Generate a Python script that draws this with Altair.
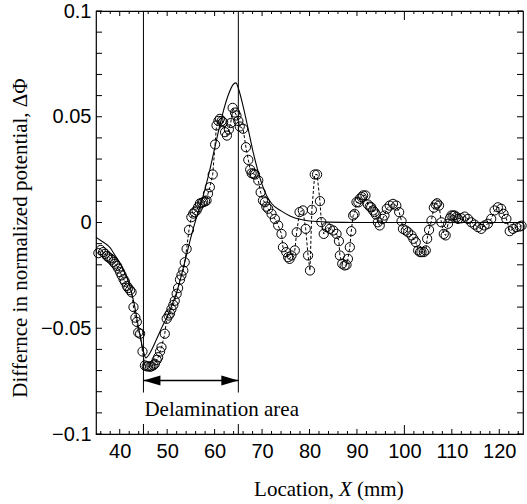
import altair as alt
import pandas as pd

# ---------------- data ----------------
meas_x = [35.5, 36.0, 36.5, 36.9, 37.3, 37.6, 38.0, 38.3, 38.7, 39.0, 39.4, 39.7,
          40.1, 40.4, 40.8, 41.1, 41.5, 41.8, 42.2, 42.5, 42.9, 43.3, 43.6, 43.9,
          44.3, 44.8, 45.3, 45.7, 46.0, 46.4, 46.7, 47.1, 47.4, 47.8, 48.1, 48.5,
          48.8, 49.5, 49.9, 50.3, 50.6, 50.9, 51.3, 51.6, 52.0, 52.3, 52.7, 53.0,
          53.4, 53.7, 54.1, 54.6, 55.1, 55.5, 55.8, 56.2, 56.5, 56.9, 57.3, 57.6,
          58.0, 58.3, 58.6, 59.0, 59.6, 60.1, 60.4, 60.8, 61.1, 61.5, 61.8, 62.2,
          62.6, 63.0, 63.4, 63.8, 64.3, 64.6, 65.0, 65.3, 66.0, 66.6, 67.1, 67.5,
          67.8, 68.2, 68.5, 69.2, 69.7, 70.2, 70.6, 70.9, 71.3, 72.0, 72.7, 73.4,
          74.1, 74.4, 75.1, 75.5, 75.8, 76.2, 76.9, 77.3, 77.9, 78.6, 79.2, 79.7,
          80.1, 80.5, 81.1, 81.6, 82.2, 82.5, 83.0, 83.6, 84.3, 85.0, 85.7, 86.2,
          86.4, 86.9, 87.4, 87.8, 88.1, 88.5, 88.8, 89.2, 89.5, 89.9, 90.3, 90.6,
          91.0, 91.3, 91.8, 92.3, 92.7, 93.0, 93.4, 93.7, 94.0, 94.4, 94.8, 95.4,
          95.8, 96.3, 96.9, 97.6, 98.3, 98.9, 99.4, 99.7, 100.3, 100.8, 101.5, 101.9,
          102.4, 102.9, 103.3, 103.6, 104.1, 104.5, 104.8, 105.2, 105.7, 106.2, 106.6, 106.9,
          107.3, 107.8, 108.3, 108.7, 109.2, 109.6, 109.9, 110.3, 110.6, 111.0, 111.3, 112.0,
          112.7, 113.4, 114.1, 114.8, 115.5, 116.2, 116.9, 117.6, 118.3, 119.0, 119.7, 120.4,
          120.9, 121.5, 122.2, 122.9, 123.6, 124.3, 124.7]
meas_y = [-0.0145, -0.013, -0.014, -0.0148, -0.0158, -0.0164, -0.017, -0.0176, -0.0186, -0.0195, -0.0205, -0.0218,
          -0.0235, -0.025, -0.0268, -0.028, -0.030, -0.031, -0.032, -0.033, -0.040, -0.045, -0.047, -0.052,
          -0.0526, -0.061, -0.0676, -0.068, -0.068, -0.0682, -0.068, -0.0675, -0.0668, -0.065, -0.0637, -0.061,
          -0.059, -0.0526, -0.0455, -0.044, -0.043, -0.041, -0.039, -0.037, -0.0337, -0.031, -0.027, -0.025,
          -0.0227, -0.0188, -0.0125, -0.0035, 0.0025, 0.0042, 0.0049, 0.0057, 0.0072, 0.009, 0.0093, 0.0096,
          0.010, 0.0104, 0.0136, 0.0167, 0.0227, 0.0369, 0.0459, 0.048, 0.049, 0.048, 0.0474, 0.0427,
          0.0411, 0.044, 0.047, 0.0542, 0.052, 0.0506, 0.048, 0.0454, 0.0443, 0.0356, 0.0296, 0.025,
          0.0233, 0.023, 0.0227, 0.0199, 0.0143, 0.0104, 0.0096, 0.0075, 0.0065, 0.0041, 0.0017, -0.0014,
          -0.0054, -0.0117, -0.014, -0.0164, -0.0172, -0.0156, -0.0132, -0.0046, 0.0049, 0.0057, -0.003, -0.0156,
          -0.0227, 0.006, 0.0227, 0.0227, 0.0101, 0.0002, -0.0054, -0.0022, -0.003, -0.0038, -0.0054, -0.0088,
          -0.0156, -0.0195, -0.0203, -0.020, -0.0172, -0.0117, -0.0041, 0.0033, 0.0041, 0.0096, 0.0095, 0.0112,
          0.012, 0.0128, 0.0128, 0.0085, 0.0075, 0.0072, 0.0057, 0.0049, 0.0038, 0.0001, -0.0014, 0.0017,
          0.0033, 0.0065, 0.008, 0.0088, 0.008, 0.0049, 0.0006, -0.003, -0.0038, -0.0046, -0.0061, -0.0077,
          -0.0093, -0.0132, -0.014, -0.014, -0.014, -0.0132, -0.0077, -0.0035, 0.0009, 0.007, 0.0085, 0.0091,
          0.008, 0.0001, -0.0054, -0.0061, -0.0006, 0.002, 0.0033, 0.0033, 0.0033, 0.0025, 0.0017, 0.002,
          0.0028, 0.0017, 0.0001, -0.001, -0.0022, -0.003, -0.0014, -0.0006, 0.0017, 0.0057, 0.0072, 0.0065,
          0.0041, 0.0017, -0.0041, -0.003, -0.0022, -0.0019, -0.0015]

model_x = [35, 36, 37, 38, 39, 40, 41, 42, 43, 44, 45, 45.5, 46, 47, 48, 49, 50, 51, 52, 53,
           54, 55, 56, 57, 58, 59, 60, 61, 62, 63, 64, 64.5, 65, 66, 67, 68, 69, 70, 71, 72,
           74, 76, 78, 80, 84, 90, 100, 110, 125]
model_y = [-0.007, -0.0085, -0.010, -0.012, -0.0155, -0.019, -0.0235, -0.029, -0.038, -0.050, -0.061, -0.064,
           -0.063, -0.059, -0.054, -0.049, -0.0445, -0.039, -0.033, -0.025, -0.016, -0.007, 0.001, 0.008,
           0.016, 0.025, 0.035, 0.045, 0.054, 0.061, 0.0655, 0.066, 0.0635, 0.055, 0.045, 0.0345, 0.0255,
           0.018, 0.0125, 0.009, 0.0055, 0.003, 0.0015, 0.0007, 0.0002, 0.0, 0.0, 0.0, 0.0]

x_labels = [40, 50, 60, 70, 80, 90, 100, 110, 120]
y_labels = [-0.1, -0.05, 0, 0.05, 0.1]
x_minor = list(range(36, 125, 2))
y_minor = [round(-0.1 + 0.01 * i, 2) for i in range(21)]
area_bounds = [45, 65]
area_label = "Delamination area"
x_title_parts = ["Location,", "X", "(mm)"]
y_title = "Differnce in normalized potential,   \u0394\u03a6"

# ---------------- chart ----------------
W, H = 427, 423
SANS = "Liberation Sans"
SERIF = "Liberation Serif"

xscale = alt.Scale(domain=[35, 125], nice=False, zero=False)
yscale = alt.Scale(domain=[-0.1, 0.1], nice=False, zero=False)
xaxis = alt.Axis(values=x_labels, ticks=False, domain=False, grid=False, title=None,
                 labelFont=SANS, labelFontSize=20, labelColor="black", labelPadding=7)
yaxis = alt.Axis(values=y_labels, ticks=False, domain=False, grid=False, title=None,
                 labelFont=SANS, labelFontSize=20, labelColor="black", labelPadding=5,
                 labelExpr="datum.value == 0 ? '0' : format(datum.value, '~g')")


def X(f):
    return alt.X(f, type="quantitative", scale=xscale, axis=xaxis)


def Y(f):
    return alt.Y(f, type="quantitative", scale=yscale, axis=yaxis)


meas = pd.DataFrame({"x": meas_x, "y": meas_y, "i": range(len(meas_x))})
model = pd.DataFrame({"x": model_x, "y": model_y, "i": range(len(model_x))})

curve = alt.Chart(model).mark_line(color="black", strokeWidth=1.1, interpolate="monotone").encode(
    x=X("x"), y=Y("y"), order="i:Q")
dashed = alt.Chart(meas).mark_line(color="black", strokeWidth=1, strokeDash=[3, 2]).encode(
    x=X("x"), y=Y("y"), order="i:Q")
circles = alt.Chart(meas).mark_point(shape="circle", filled=False, color="black", size=85,
                                     strokeWidth=1, opacity=1).encode(x=X("x"), y=Y("y"))

bounds = pd.DataFrame({"x": area_bounds})
vlines = alt.Chart(bounds).mark_rule(color="black", strokeWidth=1).encode(
    x=X("x"), y=alt.datum(0.1, scale=yscale), y2=alt.datum(-0.0804))
vbottom = alt.Chart(bounds).mark_rule(color="black", strokeWidth=1).encode(
    x=X("x"), y=alt.value(H), y2=alt.value(H - 10))

arrow_df = pd.DataFrame({"x": [area_bounds[0]], "x2": [area_bounds[1]], "y": [-0.0747]})
shaft = alt.Chart(arrow_df).mark_rule(color="black", strokeWidth=1.5).encode(
    x=X("x"), x2="x2", y=Y("y"))
head_l = alt.Chart(arrow_df).mark_point(shape="M0,0L1,-0.3L1,0.3Z", filled=True, color="black",
                                        size=1156, opacity=1).encode(x=X("x"), y=Y("y"))
head_r = alt.Chart(arrow_df).mark_point(shape="M0,0L-1,-0.3L-1,0.3Z", filled=True, color="black",
                                        size=1156, opacity=1).encode(x=X("x2"), y=Y("y"))
label_df = pd.DataFrame({"x": [area_bounds[0]], "y": [-0.0913]})
area_text = alt.Chart(label_df).mark_text(text=area_label, font=SERIF, fontSize=21, align="left",
                                          baseline="alphabetic", dx=1, color="black").encode(
    x=X("x"), y=Y("y"))

# ticks (inward) on all four sides
xmin_df = pd.DataFrame({"x": [v for v in x_minor if v % 10 != 0 and v != 100]})
xmaj_df = pd.DataFrame({"x": [v for v in x_labels if v != 100]})
x100_df = pd.DataFrame({"x": [100]})
ymin_df = pd.DataFrame({"y": y_minor})


def xticks(df, length):
    b = alt.Chart(df).mark_rule(color="black", strokeWidth=1).encode(
        x=X("x"), y=alt.value(H), y2=alt.value(H - length))
    t = alt.Chart(df).mark_rule(color="black", strokeWidth=1).encode(
        x=X("x"), y=alt.value(0), y2=alt.value(length))
    return [b, t]


tick_layers = xticks(xmin_df, 3) + xticks(xmaj_df, 5) + xticks(x100_df, 9)
tick_layers += [
    alt.Chart(ymin_df).mark_rule(color="black", strokeWidth=1).encode(
        y=Y("y"), x=alt.value(0), x2=alt.value(6)),
    alt.Chart(ymin_df).mark_rule(color="black", strokeWidth=1).encode(
        y=Y("y"), x=alt.value(W), x2=alt.value(W - 6)),
]

one = pd.DataFrame({"a": [0]})
xt1 = alt.Chart(one).mark_text(text=x_title_parts[0], font=SERIF, fontSize=21, align="right",
                               baseline="alphabetic", color="black").encode(
    x=alt.value(238), y=alt.value(485))
xt2 = alt.Chart(one).mark_text(text=x_title_parts[1], font=SERIF, fontSize=21, fontStyle="italic",
                               align="left", baseline="alphabetic", color="black").encode(
    x=alt.value(243), y=alt.value(485))
xt3 = alt.Chart(one).mark_text(text=x_title_parts[2], font=SERIF, fontSize=21, align="left",
                               baseline="alphabetic", color="black").encode(
    x=alt.value(261), y=alt.value(485))
yt = alt.Chart(one).mark_text(text=y_title, font=SERIF, fontSize=21, angle=270, align="center",
                              baseline="alphabetic", color="black").encode(
    x=alt.value(-69), y=alt.value(227))

chart = alt.layer(
    curve, dashed, circles, vlines, vbottom, shaft, head_l, head_r, area_text,
    *tick_layers, xt1, xt2, xt3, yt
).properties(
    width=W, height=H,
    autosize=alt.AutoSizeParams(type="none"),
    padding={"left": 96, "top": 11, "right": 4, "bottom": 70},
    background="white",
).configure_view(stroke="black", strokeWidth=1.2)

chart.save("out.html", embed_options={"renderer": "svg", "actions": False})
